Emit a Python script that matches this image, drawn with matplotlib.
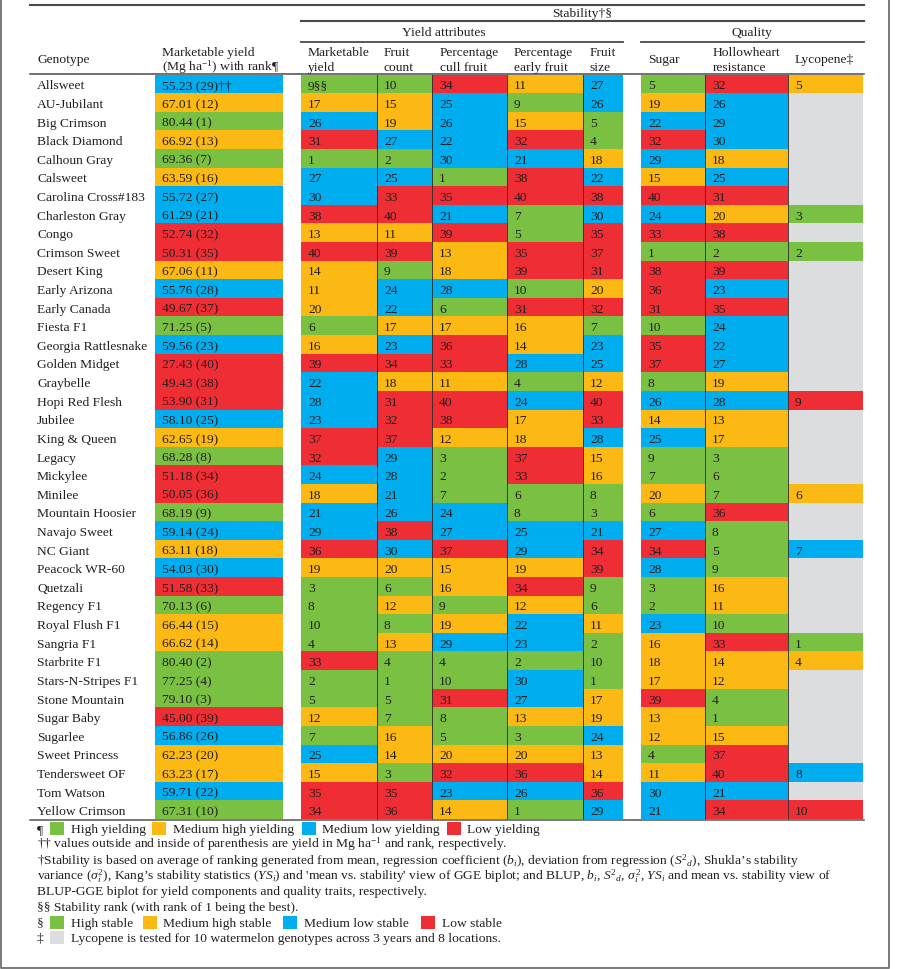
import matplotlib
matplotlib.use("Agg")
import matplotlib.pyplot as plt
from matplotlib.patches import Rectangle

plt.rcParams['font.family'] = ['Liberation Serif', 'DejaVu Serif']
plt.rcParams['mathtext.fontset'] = 'custom'
plt.rcParams['mathtext.rm'] = 'Liberation Serif'
plt.rcParams['mathtext.it'] = 'Liberation Serif:italic'

# ───────── data ─────────
genotypes = ["Allsweet", "AU-Jubilant", "Big Crimson", "Black Diamond", "Calhoun Gray",
             "Calsweet", "Carolina Cross#183", "Charleston Gray", "Congo", "Crimson Sweet",
             "Desert King", "Early Arizona", "Early Canada", "Fiesta F1", "Georgia Rattlesnake",
             "Golden Midget", "Graybelle", "Hopi Red Flesh", "Jubilee", "King & Queen",
             "Legacy", "Mickylee", "Minilee", "Mountain Hoosier", "Navajo Sweet",
             "NC Giant", "Peacock WR-60", "Quetzali", "Regency F1", "Royal Flush F1",
             "Sangria F1", "Starbrite F1", "Stars-N-Stripes F1", "Stone Mountain", "Sugar Baby",
             "Sugarlee", "Sweet Princess", "Tendersweet OF", "Tom Watson", "Yellow Crimson"]

yield_mg = ["55.23", "67.01", "80.44", "66.92", "69.36", "63.59", "55.72", "61.29", "52.74", "50.31",
            "67.06", "55.76", "49.67", "71.25", "59.56", "27.43", "49.43", "53.90", "58.10", "62.65",
            "68.28", "51.18", "50.05", "68.19", "59.14", "63.11", "54.03", "51.58", "70.13", "66.44",
            "66.62", "80.40", "77.25", "79.10", "45.00", "56.86", "62.23", "63.23", "59.71", "67.31"]
yield_rank = [29, 12, 1, 13, 7, 16, 27, 21, 32, 35, 11, 28, 37, 5, 23, 40, 38, 31, 25, 19,
              8, 34, 36, 9, 24, 18, 30, 33, 6, 15, 14, 2, 4, 3, 39, 26, 20, 17, 22, 10]

stab_marketable = [9, 17, 26, 31, 1, 27, 30, 38, 13, 40, 14, 11, 20, 6, 16, 39, 22, 28, 23, 37,
                   32, 24, 18, 21, 29, 36, 19, 3, 8, 10, 4, 33, 2, 5, 12, 7, 25, 15, 35, 34]
stab_fruit_count = [10, 15, 19, 27, 2, 25, 33, 40, 11, 39, 9, 24, 22, 17, 23, 34, 18, 31, 32, 37,
                    29, 28, 21, 26, 38, 30, 20, 6, 12, 8, 13, 4, 1, 5, 7, 16, 14, 3, 35, 36]
stab_cull = [34, 25, 26, 22, 30, 1, 35, 21, 39, 13, 18, 28, 6, 17, 36, 33, 11, 40, 38, 12,
             3, 2, 7, 24, 27, 37, 15, 16, 9, 19, 29, 4, 10, 31, 8, 5, 20, 32, 23, 14]
stab_early = [11, 9, 15, 32, 21, 38, 40, 7, 5, 35, 39, 10, 31, 16, 14, 28, 4, 24, 17, 18,
              37, 33, 6, 8, 25, 29, 19, 34, 12, 22, 23, 2, 30, 27, 13, 3, 20, 36, 26, 1]
stab_size = [27, 26, 5, 4, 18, 22, 38, 30, 35, 37, 31, 20, 32, 7, 23, 25, 12, 40, 33, 28,
             15, 16, 8, 3, 21, 34, 39, 9, 6, 11, 2, 10, 1, 17, 19, 24, 13, 14, 36, 29]
stab_sugar = [5, 19, 22, 32, 29, 15, 40, 24, 33, 1, 38, 36, 31, 10, 35, 37, 8, 26, 14, 25,
              9, 7, 20, 6, 27, 34, 28, 3, 2, 23, 16, 18, 17, 39, 13, 12, 4, 11, 30, 21]
stab_hollowheart = [32, 26, 29, 30, 18, 25, 31, 20, 38, 2, 39, 23, 35, 24, 22, 27, 19, 28, 13, 17,
                    3, 6, 7, 36, 8, 5, 9, 16, 11, 10, 33, 14, 12, 4, 1, 15, 37, 40, 21, 34]
# lycopene only tested for 10 genotypes
stab_lycopene = [5, None, None, None, None, None, None, 3, None, 2,
                 None, None, None, None, None, None, None, 9, None, None,
                 None, None, 6, None, None, 7, None, None, None, None,
                 1, 4, None, None, None, None, None, 8, None, 10]

# ───────── style ─────────
GREEN, ORANGE, BLUE, RED, GRAY = '#7AC143', '#FDB913', '#00AEEF', '#EE2E34', '#DCDDDE'
PALETTE = [GREEN, ORANGE, BLUE, RED]
TXT = '#231F20'
FS = 9.7


def rank_color(r, edges=(10, 20, 30, 40)):
    if r is None:
        return GRAY
    for e, c in zip(edges, PALETTE):
        if r <= e:
            return c
    return RED


fig = plt.figure(figsize=(8.97, 9.69), dpi=100)
ax = fig.add_axes([0, 0, 1, 1])
ax.set_xlim(0, 897)
ax.set_ylim(969, 0)
ax.axis('off')

# layout (pixels)
LEFT, RIGHT = 30, 864
TOP, BOTTOM = 74.5, 819
row_h = (BOTTOM - TOP) / len(genotypes)
yield_x = (155, 283)
stab_edges = [301, 377, 432, 507, 583, 623]
qual_edges = [641, 705, 788, 863]

stab_cols = [stab_marketable, stab_fruit_count, stab_cull, stab_early, stab_size]
qual_cols = [stab_sugar, stab_hollowheart]


def cell(x0, x1, row, color, label):
    y0 = TOP + row * row_h
    ax.add_patch(Rectangle((x0, y0), x1 - x0, row_h, facecolor=color, edgecolor='none'))
    if label is not None:
        ax.text(x0 + 7, y0 + 14.8, label, fontsize=FS, color=TXT, va='baseline', ha='left')


for i, g in enumerate(genotypes):
    ax.text(37, TOP + i * row_h + 14.8, g, fontsize=FS, color=TXT, va='baseline')
    ylab = f"{yield_mg[i]} ({yield_rank[i]})" + ("††" if i == 0 else "")
    cell(yield_x[0], yield_x[1], i, rank_color(yield_rank[i]), ylab)
    for j, col in enumerate(stab_cols):
        lab = str(col[i]) + ("§§" if (i == 0 and j == 0) else "")
        cell(stab_edges[j], stab_edges[j + 1], i, rank_color(col[i]), lab)
    for j, col in enumerate(qual_cols):
        cell(qual_edges[j], qual_edges[j + 1], i, rank_color(col[i]), str(col[i]))
    lyc = stab_lycopene[i]
    cell(qual_edges[2], qual_edges[3], i, rank_color(lyc, (3, 6, 8, 10)),
         None if lyc is None else str(lyc))

# thin column separators inside the coloured block
for x in stab_edges[1:-1] + qual_edges[1:-1]:
    ax.plot([x, x], [TOP, BOTTOM], color='#2a2a2a', lw=0.6)

# ───────── header ─────────
rule = '#4a4a4a'
ax.plot([LEFT, RIGHT], [4.5, 4.5], color=rule, lw=1.5)
ax.plot([301, RIGHT], [21, 21], color=rule, lw=1.5)
ax.plot([301, 623], [41.7, 41.7], color=rule, lw=1.3)
ax.plot([641, RIGHT], [41.7, 41.7], color=rule, lw=1.3)
ax.plot([LEFT, RIGHT], [74, 74], color=rule, lw=1.1)
ax.plot([LEFT, RIGHT], [819.5, 819.5], color='#555555', lw=1.1)

ax.text(582, 17.3, "Stability†§", fontsize=FS, color=TXT, ha='center', va='baseline')
ax.text(444, 36, "Yield attributes", fontsize=FS, color=TXT, ha='center', va='baseline')
ax.text(752, 36, "Quality", fontsize=FS, color=TXT, ha='center', va='baseline')

ax.text(37, 63.3, "Genotype", fontsize=FS, color=TXT, va='baseline')
ax.text(648, 63.3, "Sugar", fontsize=FS, color=TXT, va='baseline')
ax.text(795, 63.3, "Lycopene‡", fontsize=FS, color=TXT, va='baseline')
two_line = [(162, "Marketable yield", r"(Mg ha$^{-1}$) with rank¶"),
            (308, "Marketable", "yield"),
            (384, "Fruit", "count"),
            (440, "Percentage", "cull fruit"),
            (514, "Percentage", "early fruit"),
            (590, "Fruit", "size"),
            (713, "Hollowheart", "resistance")]
for x, l1, l2 in two_line:
    ax.text(x, 55.5, l1, fontsize=FS, color=TXT, va='baseline')
    ax.text(x, 70.7, l2, fontsize=FS, color=TXT, va='baseline')

# ───────── footnotes ─────────
def key(x, y, color):
    ax.add_patch(Rectangle((x, y), 14, 13, facecolor=color, edgecolor='none'))


ax.text(37, 832.7, "¶", fontsize=FS, color=TXT, va='baseline')
for kx, tx, c, lab in [(50, 71, GREEN, "High yielding"), (152, 173, ORANGE, "Medium high yielding"),
                       (302, 322, BLUE, "Medium low yielding"), (447, 467, RED, "Low yielding")]:
    key(kx, 822, c)
    ax.text(tx, 832.7, lab, fontsize=FS, color=TXT, va='baseline')

notes = [
    (847.5, r"†† values outside and inside of parenthesis are yield in Mg ha$^{-1}$ and rank, respectively."),
    (864.3, r"†Stability is based on average of ranking generated from mean, regression coefficient ($b_i$), "
            r"deviation from regression ($S^2{}_d$), Shukla’s stability"),
    (879.8, r"variance ($\sigma_i^2$), Kang’s stability statistics ($YS_i$) and 'mean vs. stability' view of "
            r"GGE biplot; and BLUP, $b_i$, $S^2{}_d$, $\sigma_i^2$, $YS_i$ and mean vs. stability view of"),
    (895.3, "BLUP-GGE biplot for yield components and quality traits, respectively."),
    (910.5, "§§ Stability rank (with rank of 1 being the best)."),
]
for y, t in notes:
    ax.text(37, y, t, fontsize=FS, color=TXT, va='baseline')

ax.text(37, 926.7, "§", fontsize=FS, color=TXT, va='baseline')
for kx, tx, c, lab in [(50, 71, GREEN, "High stable"), (143, 163, ORANGE, "Medium high stable"),
                       (283, 304, BLUE, "Medium low stable"), (421, 442, RED, "Low stable")]:
    key(kx, 915.5, c)
    ax.text(tx, 926.7, lab, fontsize=FS, color=TXT, va='baseline')

ax.text(37, 941.7, "‡", fontsize=FS, color=TXT, va='baseline')
key(50, 931, GRAY)
ax.text(71, 941.7, "Lycopene is tested for 10 watermelon genotypes across 3 years and 8 locations.",
        fontsize=FS, color=TXT, va='baseline')

# page frame
ax.plot([1, 1, 889, 889], [0, 967.5, 967.5, 0], color='#7a7a7a', lw=1.4)

fig.savefig("out.png", dpi=100)
